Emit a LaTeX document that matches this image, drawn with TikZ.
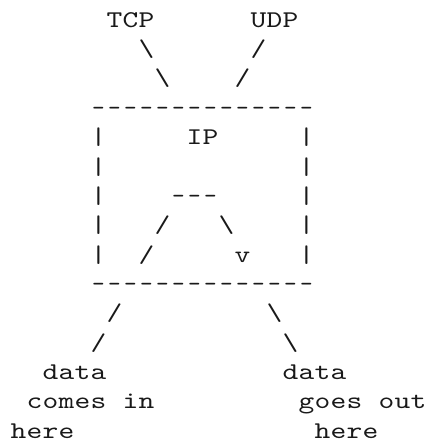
\documentclass[tikz,border=0pt]{standalone}
\usepackage{fontspec}
\newfontfamily\monofam{lmmono10-regular.otf}[FakeStretch=1.25]
\newfontfamily\monodash{lmmono10-regular.otf}
\tikzset{asc/.style={anchor=base, inner sep=0pt, outer sep=0pt, text=black!90,
  font={\monofam\fontsize{24pt}{29.34pt}\selectfont}},
  dsh/.style={asc, font={\monodash\fontsize{24pt}{29.34pt}\selectfont}}}
% grid: column width 16pt, line pitch 29.34pt
% \one{name}{column}{line}{char}
\newcommand\one[4]{\node[asc] (#1) at ({18.5pt+#2*16pt},{-27.3pt-#3*29.34pt}) {#4};}
% \word{name}{column}{line}{comma list of chars}
\newcommand\word[4]{\foreach \ch [count=\i from 0] in {#4} {
    \node[asc] (#1-\i) at ({18.5pt+(#2+\i)*16pt},{-27.3pt-#3*29.34pt}) {\ch};}}
% \dashes{name}{first column}{line}{count}
\newcommand\dashes[4]{\foreach \i in {1,...,#4} {
    \node[dsh] (#1-\i) at ({18.5pt+(#2+\i-1)*16pt},{-27.3pt-#3*29.34pt}) {-};}}
\begin{document}
\begin{tikzpicture}
\useasboundingbox (0,0) rectangle (426pt,-442pt);
% line 0
\word{tcp}{6}{0}{T,C,P}
\word{udp}{15}{0}{U,D,P}
% lines 1-2
\one{bsA}{8}{1}{\textbackslash}
\one{slA}{15}{1}{/}
\one{bsB}{9}{2}{\textbackslash}
\one{slB}{14}{2}{/}
% box top
\dashes{top}{5}{3}{14}
% line 4
\one{lA}{5}{4}{|}
\word{ip}{11}{4}{I,P}
\one{rA}{18}{4}{|}
% line 5
\one{lB}{5}{5}{|}
\one{rB}{18}{5}{|}
% line 6
\one{lC}{5}{6}{|}
\dashes{bar}{10}{6}{3}
\one{rC}{18}{6}{|}
% line 7
\one{lD}{5}{7}{|}
\one{slC}{9}{7}{/}
\one{bsC}{13}{7}{\textbackslash}
\one{rD}{18}{7}{|}
% line 8
\one{lE}{5}{8}{|}
\one{slD}{8}{8}{/}
\one{vv}{14}{8}{v}
\one{rE}{18}{8}{|}
% box bottom
\dashes{bot}{5}{9}{14}
% lines 10-11
\one{slE}{6}{10}{/}
\one{bsE}{16}{10}{\textbackslash}
\one{slF}{5}{11}{/}
\one{bsF}{17}{11}{\textbackslash}
% labels
\word{dataL}{2}{12}{d,a,t,a}
\word{dataR}{17}{12}{d,a,t,a}
\word{comes}{1}{13}{c,o,m,e,s}
\word{in}{7}{13}{i,n}
\word{goes}{18}{13}{g,o,e,s}
\word{out}{23}{13}{o,u,t}
\word{hereL}{0}{14}{h,e,r,e}
\word{hereR}{19}{14}{h,e,r,e}
\end{tikzpicture}
\end{document}
